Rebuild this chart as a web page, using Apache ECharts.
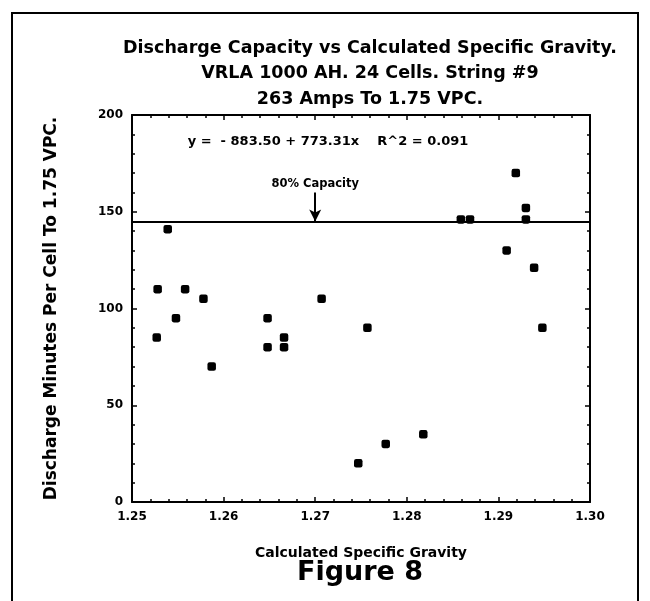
<!DOCTYPE html>
<html>
<head>
<meta charset="utf-8">
<script src="https://cdn.jsdelivr.net/npm/echarts@6/dist/echarts.min.js"></script>
<style>
  html, body { margin: 0; padding: 0; background: #fff; }
  #chart { width: 650px; height: 601px; }
</style>
</head>
<body>
<div id="chart"></div>
<script>
// specific gravity (x) and discharge minutes (y)
const gravity = [
  1.2527, 1.2528, 1.2539, 1.2548, 1.2558, 1.2578, 1.2587,
  1.2648, 1.2648, 1.2666, 1.2666, 1.2707, 1.2747, 1.2757,
  1.2777, 1.2818, 1.2859, 1.2869, 1.2909, 1.2919, 1.2930,
  1.2930, 1.2939, 1.2948
];
const minutes = [
  85, 110, 141, 95, 110, 105, 70,
  95, 80, 85, 80, 105, 20, 90,
  30, 35, 146, 146, 130, 170, 152,
  146, 121, 90
];
const titleLines = [
  "Discharge Capacity vs Calculated Specific Gravity.",
  "VRLA 1000 AH. 24 Cells. String #9",
  "263 Amps To 1.75 VPC."
];
const capacityLevel = 145;
const arrowAt = [1.27, 160];
const fitText = "y =  - 883.50 + 773.31x    R^2 = 0.091";

const FONT = "DejaVu Sans";

const points = gravity.map((g, i) => [g, minutes[i]]);

const axisBase = {
  type: "value",
  axisLine: { show: true, onZero: false, lineStyle: { color: "#000", width: 2 } },
  axisTick: { show: true, inside: true, length: 5, lineStyle: { color: "#000", width: 1.5 } },
  minorTick: { show: true, splitNumber: 5, length: 3, lineStyle: { color: "#000", width: 1.5 } },
  splitLine: { show: false },
  minorSplitLine: { show: false }
};

const chart = echarts.init(document.getElementById("chart"));

chart.setOption({
  backgroundColor: "#fff",
  animation: false,
  grid: { left: 132, right: 60, top: 115, bottom: 99 },
  xAxis: [
    {
      ...axisBase,
      position: "bottom",
      min: 1.25,
      max: 1.3,
      interval: 0.01,
      axisLabel: {
        color: "#000",
        fontFamily: FONT,
        fontWeight: "bold",
        fontSize: 12,
        margin: 9,
        formatter: v => v.toFixed(2)
      },
      name: "Calculated Specific Gravity",
      nameLocation: "middle",
      nameGap: 44,
      nameTextStyle: { color: "#000", fontFamily: FONT, fontWeight: "bold", fontSize: 14 }
    },
    {
      ...axisBase,
      position: "top",
      min: 1.25,
      max: 1.3,
      interval: 0.01,
      axisLabel: { show: false }
    }
  ],
  yAxis: [
    {
      ...axisBase,
      position: "left",
      min: 0,
      max: 200,
      interval: 50,
      axisLabel: {
        color: "#000",
        fontFamily: FONT,
        fontWeight: "bold",
        fontSize: 12,
        margin: 9
      },
      name: "Discharge Minutes Per Cell To 1.75 VPC.",
      nameLocation: "middle",
      nameRotate: 90,
      nameGap: 72,
      nameTextStyle: { color: "#000", fontFamily: FONT, fontWeight: "bold", fontSize: 17 }
    },
    {
      ...axisBase,
      position: "right",
      min: 0,
      max: 200,
      interval: 50,
      axisLabel: { show: false }
    }
  ],
  graphic: [
    {
      type: "rect",
      shape: { x: 12, y: 13, width: 626, height: 620 },
      style: { fill: "none", stroke: "#000", lineWidth: 2 },
      silent: true
    },
    ...titleLines.map((t, i) => ({
      type: "text",
      x: 370,
      y: 48 + i * 25.5,
      style: {
        text: t,
        fill: "#000",
        font: "bold 17.5px '" + FONT + "'",
        textAlign: "center",
        textVerticalAlign: "middle"
      }
    })),
    {
      type: "text",
      x: 328,
      y: 142,
      style: {
        text: fitText,
        fill: "#000",
        font: "bold 13px '" + FONT + "'",
        textAlign: "center",
        textVerticalAlign: "middle"
      }
    },
    {
      type: "text",
      x: 360,
      y: 573,
      style: {
        text: "Figure 8",
        fill: "#000",
        font: "bold 27px '" + FONT + "'",
        textAlign: "center",
        textVerticalAlign: "middle"
      }
    }
  ],
  series: [
    {
      type: "scatter",
      xAxisIndex: 0,
      yAxisIndex: 0,
      symbol: "roundRect",
      symbolSize: 8.5,
      itemStyle: { color: "#000", opacity: 1 },
      data: points,
      markLine: {
        silent: true,
        animation: false,
        data: [
          [
            {
              coord: [1.25, capacityLevel],
              symbol: "none"
            },
            {
              coord: [1.3, capacityLevel],
              symbol: "none"
            }
          ],
          [
            {
              coord: arrowAt,
              symbol: "none",
              label: {
                show: true,
                position: "start",
                formatter: "80% Capacity",
                color: "#000",
                fontFamily: FONT,
                fontWeight: "bold",
                fontSize: 11.5,
                distance: 2
              }
            },
            {
              coord: [arrowAt[0], capacityLevel],
              symbol: "arrow",
              symbolSize: [9, 12]
            }
          ]
        ],
        lineStyle: { color: "#000", width: 2, type: "solid" },
        label: { show: false }
      }
    }
  ]
});
</script>
</body>
</html>
